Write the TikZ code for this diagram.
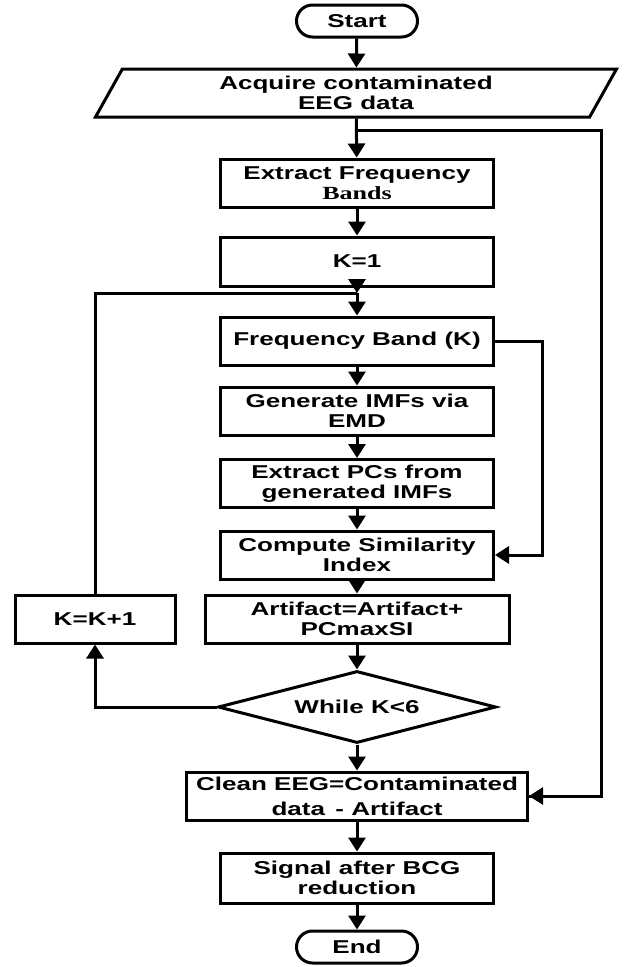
\documentclass[tikz,border=0pt]{standalone}
\usepackage{fontspec}
\newfontfamily\flowfont[FakeStretch=1.4]{Liberation Sans}
\newfontfamily\bandfont[FakeStretch=1.4]{Liberation Serif}
\usetikzlibrary{arrows.meta, shapes.geometric}

\tikzset{
  box/.style={draw, line width=3pt, minimum width=273pt, minimum height=48pt,
    inner sep=0pt, align=center, font=\flowfont\bfseries\fontsize{18.6}{19.5}\selectfont},
  term/.style={box, rounded corners=16pt, minimum width=121pt, minimum height=32pt},
  flow/.style={line width=3pt, ->, >={Triangle[length=14pt,width=17pt]}},
  wire/.style={line width=3pt}
}

\begin{document}
\begin{tikzpicture}[x=1pt, y=-1pt]
      \useasboundingbox (0, 0) rectangle (625, 967);

      \node[term] (start) at (357, 21) {Start};
      \node[box, trapezium, trapezium left angle=51, trapezium right angle=129,
        trapezium stretches body, minimum width=521pt] (acquire) at (356, 93)
        {Acquire contaminated\\EEG data};
      \node[box] (extract) at (357, 183) {Extract Frequency\\{\bandfont\bfseries\fontsize{18.6}{19.5}\selectfont Bands}};
      \node[box, minimum height=49pt] (kone) at (357, 261.5) {K=1};
      \coordinate (join) at (357, 293);
      \node[box] (band) at (357, 341) {Frequency Band (K)};
      \node[box] (imfs) at (357, 411) {Generate IMFs via\\EMD};
      \node[box] (pcs) at (357, 483.5) {Extract PCs from\\generated IMFs};
      \node[box] (simidx) at (357, 555) {Compute Similarity\\Index};
      \node[box, minimum width=304pt] (artifact) at (357, 619) {Artifact=Artifact+\\PCmaxSI};
      \node[box, minimum width=160pt] (kinc) at (95, 619) {K=K+1};
      \node[box, diamond, aspect=3.86, minimum width=278pt, minimum height=72pt] (cond) at (357, 707) {While K<6};
      \node[box, minimum width=341pt, font=\flowfont\bfseries\fontsize{18.6}{25}\selectfont] (clean) at (357, 796)
        {Clean EEG=Contaminated\\data \,- Artifact};
      \node[box, minimum height=50pt] (signal) at (357, 878) {Signal after BCG\\reduction};
      \node[term] (end) at (357, 947) {End};

      \coordinate (split) at (357, 130);
      \coordinate (right) at (601, 130);

      \draw[flow] (start) -- (acquire);
      \draw[flow] (acquire) -- (extract);
      \draw[wire] (split) -- (right) |- (clean.east);
      \draw[flow] (right |- clean.east) -- (clean.east);
      \draw[flow] (extract) -- (kone);
      \draw[flow] (kone) -- (join);
      \draw[flow] (join) -- (band);
      \draw[flow] (band) -- (imfs);
      \draw[flow] (imfs) -- (pcs);
      \draw[flow] (pcs) -- (simidx);
      \draw[flow] (band.east) -| (542, 555) -- (simidx.east);
      \draw[flow] (simidx) -- (artifact);
      \draw[flow] (artifact) -- (cond);
      \draw[flow] (cond.west) -| (kinc.south);
      \draw[wire] (kinc.north) |- (join);
      \draw[flow] (cond) -- (clean);
      \draw[flow] (clean) -- (signal);
      \draw[flow] (signal) -- (end);
    \end{tikzpicture}
\end{document}
